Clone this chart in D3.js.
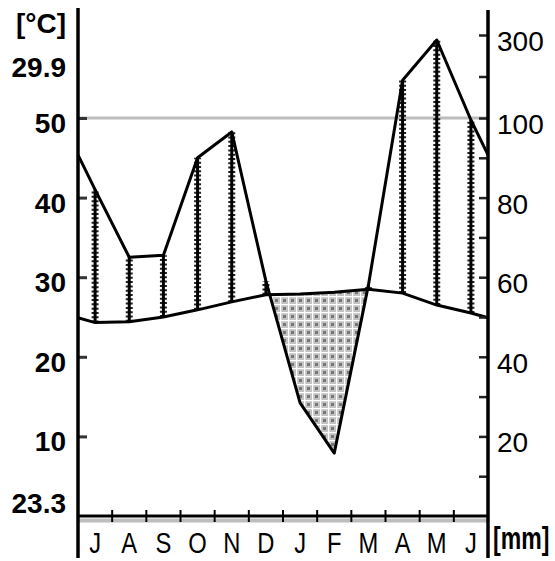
<!DOCTYPE html>
<html>
<head>
  <script src="https://d3js.org/d3.v7.min.js"></script>
  <style>
    body { margin: 0; background: #fff; }
    text { font-family: "Liberation Sans", Arial, sans-serif; fill: #000; }
  </style>
</head>
<body>
<div id="chart"></div>
<script>
  // climate diagram, year runs July -> June
  const months = ["J", "A", "S", "O", "N", "D", "J", "F", "M", "A", "M", "J"];
  const temp = [24.3, 24.4, 25.0, 25.9, 26.9, 27.8, 27.9, 28.1, 28.5, 28.0, 26.5, 25.5];
  const precip = [82, 65, 65.5, 90, 96.5, 59, 28.4, 15.8, 58, 191, 288, 99.5];
  const tempTicks = [10, 20, 30, 40, 50];
  const precipTicks = [10, 20, 30, 40, 50, 60, 70, 80, 90, 100, 200, 300];
  const precipLabels = [20, 40, 60, 80, 100, 300];
  const notes = [
    { text: "[°C]", y: 33 },
    { text: "29.9", y: 77 },
    { text: "23.3", y: 513 }
  ];

  const width = 555, height = 561;
  const left = 78, right = 488, bottom = 516;

  const svg = d3.select("#chart").append("svg")
    .attr("width", width)
    .attr("height", height);

  const x = d3.scaleBand().domain(d3.range(12)).range([left, right]);
  const yT = d3.scaleLinear().domain([0, 50]).range([bottom, 118]);
  const yP = d3.scaleLinear().domain([0, 100, 300]).range([bottom, 118, 35]);

  const cx = i => x(i) + x.bandwidth() / 2;

  // points incl. the wrap-around ends at both axes
  const pts = months.map((m, i) => ({ x: cx(i), t: yT(temp[i]), p: yP(precip[i]) }));
  const edge = {
    t: (yT(temp[0]) + yT(temp[11])) / 2,
    p: (yP(precip[0]) + yP(precip[11])) / 2
  };
  const line = [{ x: left, t: edge.t, p: edge.p }, ...pts, { x: right, t: edge.t, p: edge.p }];

  // drought pattern
  const defs = svg.append("defs");
  const pat = defs.append("pattern")
    .attr("id", "dry")
    .attr("patternUnits", "userSpaceOnUse")
    .attr("width", 8).attr("height", 8);
  pat.append("rect").attr("width", 8).attr("height", 8).attr("fill", "#c2c2c2");
  pat.append("rect").attr("x", 3).attr("y", 3).attr("width", 3).attr("height", 3).attr("fill", "#777");
  pat.append("rect").attr("width", 8).attr("height", 1.2).attr("fill", "#fff");
  pat.append("rect").attr("width", 1.2).attr("height", 8).attr("fill", "#fff");

  // 100 mm line
  svg.append("line")
    .attr("x1", left).attr("x2", right)
    .attr("y1", yP(100)).attr("y2", yP(100))
    .attr("stroke", "#bdbdbd").attr("stroke-width", 3);

  // sample the two curves to fill the dry season
  const interp = (key, xv) => {
    for (let k = 0; k < line.length - 1; k++) {
      const a = line[k], b = line[k + 1];
      if (xv >= a.x && xv <= b.x) return a[key] + (b[key] - a[key]) * (xv - a.x) / (b.x - a.x);
    }
    return line[line.length - 1][key];
  };
  const samples = d3.range(left, right + 0.25, 0.25).map(v => ({ x: v, t: interp("t", v), p: interp("p", v) }));

  svg.append("path")
    .datum(samples)
    .attr("fill", "url(#dry)")
    .attr("d", d3.area()
      .defined(d => d.p >= d.t)
      .x(d => d.x).y0(d => d.t).y1(d => d.p));

  // humid season ladders
  const wet = pts.filter(d => d.p < d.t);
  svg.selectAll(".wet-d")
    .data(wet).enter().append("line")
    .attr("x1", d => d.x).attr("x2", d => d.x)
    .attr("y1", d => d.t).attr("y2", d => d.p)
    .attr("stroke", "#222").attr("stroke-width", 7)
    .attr("stroke-dasharray", "2,2.3");
  svg.selectAll(".wet-c")
    .data(wet).enter().append("line")
    .attr("x1", d => d.x).attr("x2", d => d.x)
    .attr("y1", d => d.t).attr("y2", d => d.p)
    .attr("stroke", "#000").attr("stroke-width", 3);

  // temperature and precipitation curves
  svg.append("path")
    .datum(line)
    .attr("fill", "none").attr("stroke", "#000").attr("stroke-width", 3)
    .attr("d", d3.line().x(d => d.x).y(d => d.t));
  svg.append("path")
    .datum(line)
    .attr("fill", "none").attr("stroke", "#000").attr("stroke-width", 3)
    .attr("stroke-linejoin", "round")
    .attr("d", d3.line().x(d => d.x).y(d => d.p));

  // bottom line
  svg.append("line")
    .attr("x1", left).attr("x2", right).attr("y1", 520.5).attr("y2", 520.5)
    .attr("stroke", "#bdbdbd").attr("stroke-width", 4);
  svg.append("line")
    .attr("x1", left).attr("x2", right).attr("y1", bottom).attr("y2", bottom)
    .attr("stroke", "#000").attr("stroke-width", 3);

  // month boundary ticks
  svg.selectAll(".mtick")
    .data(d3.range(1, 12)).enter().append("line")
    .attr("x1", i => x(i)).attr("x2", i => x(i))
    .attr("y1", bottom - 6).attr("y2", bottom + 6)
    .attr("stroke", "#000").attr("stroke-width", 2);

  svg.selectAll(".mlab")
    .data(months).enter().append("text")
    .attr("transform", (m, i) => `translate(${cx(i)},553) scale(0.82,1)`)
    .attr("text-anchor", "middle")
    .style("font-size", "29px")
    .text(m => m);

  // left temperature axis
  const axL = svg.append("g")
    .attr("transform", `translate(${left},0)`)
    .call(d3.axisLeft(yT).tickValues(tempTicks).tickSize(-9).tickPadding(12));
  axL.select(".domain").remove();
  axL.selectAll(".tick line").attr("stroke", "#333").attr("stroke-width", 3);
  axL.selectAll(".tick text")
    .attr("dy", "0.52em")
    .style("font-size", "28px").style("font-weight", "bold")
    .style("font-family", "'Liberation Sans', Arial, sans-serif");
  svg.append("line")
    .attr("x1", left).attr("x2", left).attr("y1", 8).attr("y2", 558)
    .attr("stroke", "#000").attr("stroke-width", 3.5);

  // right precipitation axis
  const axR = svg.append("g")
    .attr("transform", `translate(${right},0)`)
    .call(d3.axisRight(yP).tickValues(precipTicks).tickSize(-9).tickPadding(9)
      .tickFormat(d => precipLabels.includes(d) ? d : ""));
  axR.select(".domain").remove();
  axR.selectAll(".tick line").attr("stroke", "#222").attr("stroke-width", 2.5);
  axR.selectAll(".tick text")
    .attr("dy", "0.55em")
    .style("font-size", "28px")
    .style("font-family", "'Liberation Sans', Arial, sans-serif");
  svg.append("line")
    .attr("x1", right).attr("x2", right).attr("y1", 10).attr("y2", 558)
    .attr("stroke", "#000").attr("stroke-width", 3.5);

  // annotations on the left
  svg.selectAll(".note")
    .data(notes).enter().append("text")
    .attr("x", 66).attr("y", d => d.y)
    .attr("text-anchor", "end")
    .style("font-size", "28px").style("font-weight", "bold")
    .text(d => d.text);

  svg.append("text")
    .attr("transform", "translate(493,549) scale(0.72,1)")
    .style("font-size", "32px").style("font-weight", "bold")
    .text("[mm]");
</script>
</body>
</html>
